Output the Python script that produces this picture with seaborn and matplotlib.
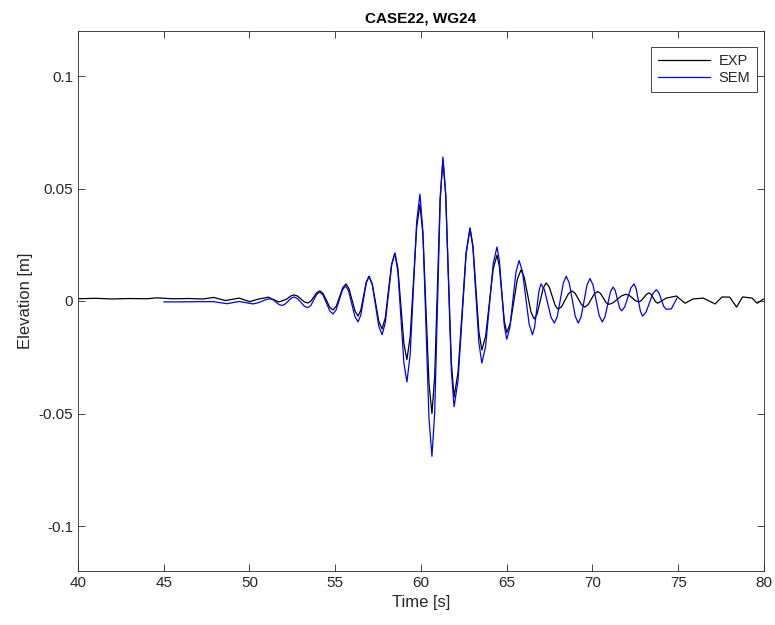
import matplotlib
matplotlib.use("Agg")
import matplotlib.pyplot as plt
import seaborn as sns
import pandas as pd

# ---- data (time [s], elevation [m]) ----
exp_t = [40.0, 41.0, 42.0, 43.0, 44.0, 44.6, 45.5, 46.5, 47.3, 47.9, 48.6, 49.4, 50.0, 50.5,
         51.1, 51.7, 52.0, 52.2, 52.4,
         52.6, 52.8, 53.0, 53.2,
         53.4, 53.575, 53.75, 53.925,
         54.1, 54.29, 54.49, 54.68,
         54.87, 55.06, 55.25, 55.44,
         55.63, 55.80, 55.98, 56.16,
         56.33, 56.49, 56.65, 56.81,
         56.97, 57.16, 57.35, 57.54,
         57.73, 57.92, 58.10, 58.29,
         58.48, 58.655, 58.83, 59.005,
         59.18, 59.37, 59.56, 59.75,
         59.94, 60.115, 60.29, 60.465,
         60.64, 60.80, 60.96, 61.12,
         61.28, 61.44, 61.605, 61.77,
         61.93, 62.16, 62.395, 62.63,
         62.86, 63.03, 63.205, 63.38,
         63.55, 63.77, 63.99, 64.21,
         64.43, 64.57, 64.715, 64.86,
         65.0, 65.21, 65.415, 65.62,
         65.83, 66.02, 66.215, 66.41,
         66.6, 66.775, 66.95, 67.125,
         67.3, 67.475, 67.65, 67.825,
         68.0, 68.2, 68.4, 68.6,
         68.8, 68.99, 69.175, 69.36,
         69.55, 69.74, 69.925, 70.11,
         70.3, 70.46, 70.625, 70.79,
         70.95, 71.2, 71.45, 71.7,
         71.95, 72.14, 72.325, 72.51,
         72.7, 72.85, 73.0, 73.15,
         73.3, 73.425, 73.55, 73.675,
         73.8, 74.3, 74.9, 75.4, 75.86,
         76.45, 77.15, 77.55, 78.0, 78.4, 78.75, 79.3, 79.6, 80.0]
exp_eta = [0.0010, 0.0012, 0.0009, 0.0011, 0.0010, 0.0014, 0.0010, 0.0011, 0.0009, 0.0016,
           0.0002, 0.0013, -0.0003, 0.0008, 0.0017, -0.0004, 0.0003, 0.0010, 0.0022,
           0.0027, 0.0022, 0.0009, -0.0004,
           -0.0009, -0.0001, 0.0018, 0.0037,
           0.0045, 0.0033, 0.0003, -0.0028,
           -0.0040, -0.0023, 0.0018, 0.0059,
           0.0076, 0.0055, 0.0005, -0.0046,
           -0.0067, -0.0041, 0.0022, 0.0084,
           0.0110, 0.0076, -0.0007, -0.0090,
           -0.0124, -0.0075, 0.0045, 0.0164,
           0.0213, 0.0144, -0.0024, -0.0191,
           -0.0260, -0.0159, 0.0085, 0.0329,
           0.0430, 0.0294, -0.0035, -0.0364,
           -0.0500, -0.0335, 0.0064, 0.0462,
           0.0627, 0.0473, 0.0100, -0.0273,
           -0.0427, -0.0317, -0.0052, 0.0214,
           0.0324, 0.0245, 0.0053, -0.0139,
           -0.0218, -0.0156, -0.0007, 0.0142,
           0.0204, 0.0154, 0.0032, -0.0090,
           -0.0140, -0.0099, -0.0001, 0.0097,
           0.0138, 0.0106, 0.0029, -0.0048,
           -0.0080, -0.0057, 0.0000, 0.0057,
           0.0080, 0.0063, 0.0022, -0.0020,
           -0.0037, -0.0025, 0.0004, 0.0033,
           0.0045, 0.0034, 0.0009, -0.0016,
           -0.0027, -0.0017, 0.0008, 0.0032,
           0.0042, 0.0034, 0.0014, -0.0007,
           -0.0015, -0.0008, 0.0008, 0.0023,
           0.0030, 0.0025, 0.0013, 0.0001,
           -0.0004, 0.0002, 0.0016, 0.0030,
           0.0036, 0.0029, 0.0013, -0.0003,
           -0.0010, 0.0013, 0.0022, -0.0010, 0.0009,
           0.0013, -0.0013, 0.0018, 0.0017, -0.0027, 0.0018, 0.0013, -0.0010, 0.0010]

sem_t = [45.0, 46.0, 47.0, 47.9, 48.7, 49.4, 50.2, 50.45, 50.7, 50.95,
         51.2, 51.375, 51.55, 51.725,
         51.9, 52.075, 52.25, 52.425,
         52.6, 52.8, 53.0, 53.2,
         53.4, 53.575, 53.75, 53.925,
         54.1, 54.29, 54.49, 54.68,
         54.87, 55.05, 55.235, 55.42,
         55.6, 55.78, 55.965, 56.15,
         56.33, 56.49, 56.65, 56.81,
         56.97, 57.16, 57.35, 57.54,
         57.73, 57.92, 58.105, 58.29,
         58.48, 58.655, 58.83, 59.005,
         59.18, 59.37, 59.56, 59.75,
         59.94, 60.115, 60.29, 60.465,
         60.64, 60.80, 60.96, 61.12,
         61.28, 61.44, 61.605, 61.77,
         61.93, 62.16, 62.395, 62.63,
         62.86, 63.03, 63.205, 63.38,
         63.55, 63.77, 63.99, 64.21,
         64.43, 64.57, 64.715, 64.86,
         65.0, 65.18, 65.36, 65.54,
         65.72, 65.915, 66.11, 66.305,
         66.5, 66.625, 66.75, 66.875,
         67.0, 67.195, 67.39, 67.585,
         67.78, 67.95, 68.125, 68.30,
         68.47, 68.645, 68.82, 68.995,
         69.17, 69.34, 69.51, 69.68,
         69.85, 70.03, 70.21, 70.39,
         70.57, 70.73, 70.885, 71.04,
         71.2, 71.325, 71.45, 71.575,
         71.7, 71.88, 72.06, 72.24,
         72.42, 72.545, 72.67, 72.795,
         72.92, 73.12, 73.32, 73.52,
         73.72, 73.865, 74.01, 74.155,
         74.3, 74.6, 74.8, 74.93]
sem_eta = [-0.0004, -0.0004, -0.0003, -0.0003, -0.0012, -0.0002, -0.0013, -0.0009, -0.0002, 0.0006,
           0.0010, 0.0006, -0.0005, -0.0016,
           -0.0020, -0.0014, -0.0001, 0.0012,
           0.0018, 0.0011, -0.0006, -0.0023,
           -0.0030, -0.0020, 0.0005, 0.0030,
           0.0040, 0.0026, -0.0009, -0.0044,
           -0.0058, -0.0040, 0.0005, 0.0049,
           0.0067, 0.0044, -0.0013, -0.0070,
           -0.0093, -0.0063, 0.0009, 0.0080,
           0.0110, 0.0072, -0.0020, -0.0112,
           -0.0150, -0.0097, 0.0032, 0.0160,
           0.0213, 0.0129, -0.0074, -0.0276,
           -0.0360, -0.0238, 0.0058, 0.0353,
           0.0475, 0.0305, -0.0108, -0.0520,
           -0.0690, -0.0496, -0.0025, 0.0446,
           0.0640, 0.0478, 0.0085, -0.0308,
           -0.0470, -0.0354, -0.0073, 0.0208,
           0.0324, 0.0236, 0.0024, -0.0188,
           -0.0276, -0.0201, -0.0018, 0.0165,
           0.0240, 0.0180, 0.0035, -0.0110,
           -0.0170, -0.0119, 0.0005, 0.0129,
           0.0180, 0.0132, 0.0015, -0.0102,
           -0.0150, -0.0117, -0.0037, 0.0043,
           0.0076, 0.0051, -0.0011, -0.0073,
           -0.0098, -0.0068, 0.0006, 0.0080,
           0.0110, 0.0080, 0.0006, -0.0068,
           -0.0098, -0.0069, 0.0001, 0.0071,
           0.0100, 0.0072, 0.0004, -0.0065,
           -0.0093, -0.0070, -0.0016, 0.0039,
           0.0062, 0.0047, 0.0009, -0.0029,
           -0.0044, -0.0026, 0.0016, 0.0058,
           0.0076, 0.0055, 0.0005, -0.0046,
           -0.0067, -0.0050, -0.0009, 0.0033,
           0.0050, 0.0037, 0.0007, -0.0024,
           -0.0037, -0.0035, -0.0005, 0.0013]

title = "CASE22, WG24"
x_ticks = [40, 45, 50, 55, 60, 65, 70, 75, 80]
y_ticks = [-0.1, -0.05, 0, 0.05, 0.1]
y_tick_labels = ["-0.1", "-0.05", "0", "0.05", "0.1"]

sns.set_style("white")
plt.rcParams["font.family"] = ["Liberation Sans", "DejaVu Sans"]
plt.rcParams["xtick.direction"] = "in"
plt.rcParams["ytick.direction"] = "in"

df_exp = pd.DataFrame({"t": exp_t, "eta": exp_eta})
df_sem = pd.DataFrame({"t": sem_t, "eta": sem_eta})

fig = plt.figure(figsize=(7.75, 6.25), dpi=100)
ax = fig.add_axes([0.1006, 0.0864, 0.8852, 0.864])

sns.lineplot(data=df_exp, x="t", y="eta", ax=ax, color="black", lw=0.9, label="EXP",
             estimator=None, sort=False)
sns.lineplot(data=df_sem, x="t", y="eta", ax=ax, color="#0000ff", lw=0.9, label="SEM",
             estimator=None, sort=False)

ax.set_xlim(40, 80)
ax.set_ylim(-0.12, 0.12)
ax.set_xticks(x_ticks)
ax.set_xticklabels([str(v) for v in x_ticks])
ax.set_yticks(y_ticks)
ax.set_yticklabels(y_tick_labels)
ax.tick_params(axis="both", which="both", labelsize=11, colors="#262626",
               direction="in", length=5, width=0.6, top=True, right=True,
               bottom=True, left=True)
for sp in ax.spines.values():
    sp.set_visible(True)
    sp.set_color("#262626")
    sp.set_linewidth(0.6)

ax.set_xlabel("Time [s]", fontsize=12, color="#262626")
ax.set_ylabel("Elevation [m]", fontsize=12, color="#262626")
ax.set_title(title, fontsize=11, fontweight="bold", color="black", pad=6)

leg = ax.legend(loc="upper right", bbox_to_anchor=(0.990, 0.970), frameon=True,
                fancybox=False, fontsize=10.5, handlelength=3.6, borderaxespad=0.0,
                edgecolor="#262626", framealpha=1, borderpad=0.45, labelspacing=0.25,
                handletextpad=0.6)
leg.get_frame().set_linewidth(0.6)

fig.savefig("out.png", dpi=100)
